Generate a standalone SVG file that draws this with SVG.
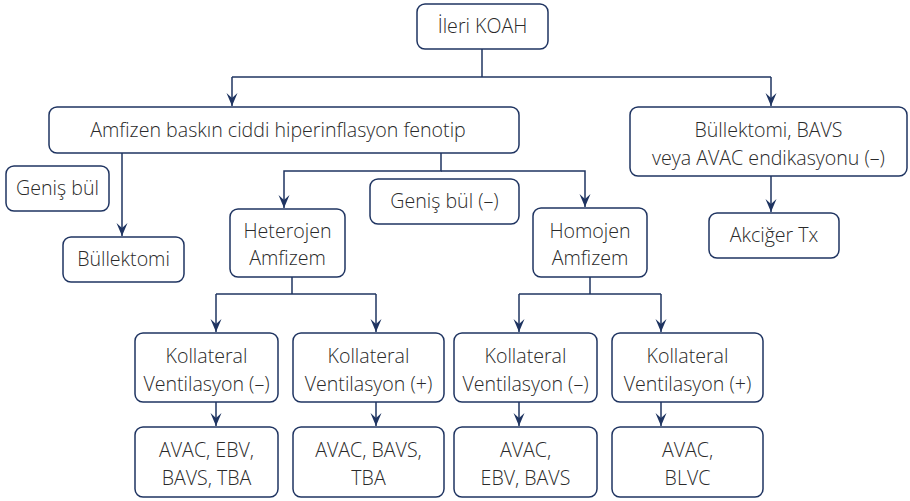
<svg xmlns="http://www.w3.org/2000/svg" width="910" height="501" viewBox="0 0 910 501">
<defs>
<style>
.box{fill:#fff;stroke:#1f3461;stroke-width:1.5}
.t{font-family:"Open Sans","Noto Sans",sans-serif;font-size:19.6px;font-weight:300;fill:#2a2a2a;text-anchor:middle}
.c{fill:none;stroke:#1f3461;stroke-width:1.5}
</style>
<marker id="ah" markerWidth="12" markerHeight="14" refX="6" refY="13" orient="0" markerUnits="userSpaceOnUse" viewBox="0 0 12 14">
<path d="M0.5,0 L6,13 L11.5,0 L6,5 Z" fill="#1f3461"/>
</marker>
</defs>
<rect width="910" height="501" fill="#fff"/>
<g id="connectors">
<path class="c" d="M482,49 V77"/>
<path class="c" d="M232,77 H771"/>
<path class="c" d="M232,77 V106" marker-end="url(#ah)"/>
<path class="c" d="M771,77 V106" marker-end="url(#ah)"/>
<path class="c" d="M771,176 V212" marker-end="url(#ah)"/>
<path class="c" d="M122,153 V236" marker-end="url(#ah)"/>
<path class="c" d="M441,153 V171 H284 V208" marker-end="url(#ah)"/>
<path class="c" d="M441,171 H585 V207" marker-end="url(#ah)"/>
<path class="c" d="M292,277 V294"/>
<path class="c" d="M216,294 H376"/>
<path class="c" d="M216,294 V332" marker-end="url(#ah)"/>
<path class="c" d="M376,294 V332" marker-end="url(#ah)"/>
<path class="c" d="M590,277 V294"/>
<path class="c" d="M519,294 H661"/>
<path class="c" d="M519,294 V332" marker-end="url(#ah)"/>
<path class="c" d="M661,294 V332" marker-end="url(#ah)"/>
<path class="c" d="M216,402 V426" marker-end="url(#ah)"/>
<path class="c" d="M376,402 V426" marker-end="url(#ah)"/>
<path class="c" d="M519,402 V426" marker-end="url(#ah)"/>
<path class="c" d="M661,402 V426" marker-end="url(#ah)"/>
</g>
<g id="n-koah"><rect class="box" x="417" y="4" width="131" height="45" rx="8"/><text class="t" x="482.5" y="33">İleri KOAH</text></g>
<g id="n-amfizen"><rect class="box" x="49" y="107" width="470" height="46" rx="8"/><text class="t" x="278" y="137">Amfizen baskın ciddi hiperinflasyon fenotip</text></g>
<g id="n-bullektomi-bavs"><rect class="box" x="630" y="107" width="277" height="69" rx="8"/><text class="t" x="768.5" y="137">Büllektomi, BAVS</text><text class="t" x="768.5" y="165">veya AVAC endikasyonu (–)</text></g>
<g id="n-akciger"><rect class="box" x="709" y="213" width="130" height="45" rx="8"/><text class="t" x="774" y="242">Akciğer Tx</text></g>
<g id="n-genis"><rect class="box" x="6" y="166" width="103" height="45" rx="8"/><text class="t" x="57.5" y="195">Geniş bül</text></g>
<g id="n-bullektomi"><rect class="box" x="63" y="237" width="121" height="45" rx="8"/><text class="t" x="123.5" y="266">Büllektomi</text></g>
<g id="n-genis-neg"><rect class="box" x="370" y="179" width="149" height="45" rx="8"/><text class="t" x="444.5" y="208">Geniş bül (–)</text></g>
<g id="n-heterojen"><rect class="box" x="230" y="209" width="115" height="68" rx="8"/><text class="t" x="287.5" y="238">Heterojen</text><text class="t" x="287.5" y="265">Amfizem</text></g>
<g id="n-homojen"><rect class="box" x="533" y="208" width="114" height="69" rx="8"/><text class="t" x="590" y="238">Homojen</text><text class="t" x="590" y="265">Amfizem</text></g>
<g id="n-kv1"><rect class="box" x="135" y="333" width="143" height="69" rx="8"/><text class="t" x="206.5" y="363">Kollateral</text><text class="t" x="206.5" y="391">Ventilasyon (–)</text></g>
<g id="n-kv2"><rect class="box" x="293" y="333" width="151" height="69" rx="8"/><text class="t" x="368.5" y="363">Kollateral</text><text class="t" x="368.5" y="391">Ventilasyon (+)</text></g>
<g id="n-kv3"><rect class="box" x="454" y="333" width="143" height="69" rx="8"/><text class="t" x="525.5" y="363">Kollateral</text><text class="t" x="525.5" y="391">Ventilasyon (–)</text></g>
<g id="n-kv4"><rect class="box" x="612" y="333" width="151" height="69" rx="8"/><text class="t" x="687.5" y="363">Kollateral</text><text class="t" x="687.5" y="391">Ventilasyon (+)</text></g>
<g id="n-r1"><rect class="box" x="135" y="427" width="143" height="70" rx="8"/><text class="t" x="206.5" y="457">AVAC, EBV,</text><text class="t" x="206.5" y="485">BAVS, TBA</text></g>
<g id="n-r2"><rect class="box" x="293" y="427" width="151" height="70" rx="8"/><text class="t" x="368.5" y="457">AVAC, BAVS,</text><text class="t" x="368.5" y="485">TBA</text></g>
<g id="n-r3"><rect class="box" x="454" y="427" width="143" height="70" rx="8"/><text class="t" x="525.5" y="457">AVAC,</text><text class="t" x="525.5" y="485">EBV, BAVS</text></g>
<g id="n-r4"><rect class="box" x="612" y="427" width="151" height="70" rx="8"/><text class="t" x="687.5" y="457">AVAC,</text><text class="t" x="687.5" y="485">BLVC</text></g>
</svg>
